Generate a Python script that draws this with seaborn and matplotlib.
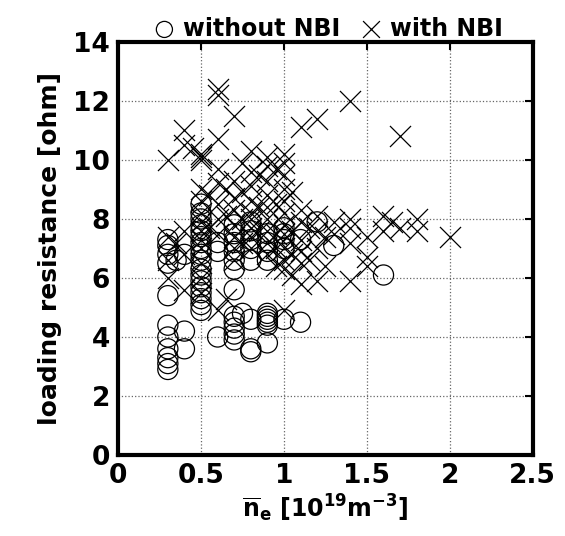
import pandas as pd
import matplotlib.pyplot as plt
import seaborn as sns

# without NBI (open circles)
x_wo = [0.3, 0.3, 0.3, 0.3, 0.3, 0.3, 0.3, 0.3, 0.3, 0.3, 0.3,
        0.35, 0.4, 0.4, 0.4,
        0.5, 0.5, 0.5, 0.5, 0.5, 0.5, 0.5, 0.5, 0.5, 0.5, 0.5, 0.5, 0.5, 0.5, 0.5, 0.5, 0.5, 0.5,
        0.6, 0.6, 0.6,
        0.7, 0.7, 0.7, 0.7, 0.7, 0.7, 0.7, 0.7, 0.7, 0.7, 0.7, 0.7,
        0.75,
        0.8, 0.8, 0.8, 0.8, 0.8, 0.8, 0.8, 0.8,
        0.9, 0.9, 0.9, 0.9, 0.9, 0.9, 0.9, 0.9, 0.9, 0.9,
        1.0, 1.0, 1.0, 1.0, 1.0,
        1.1, 1.1, 1.2, 1.3, 1.6]
y_wo = [2.9, 3.1, 3.3, 3.6, 4.0, 4.4, 5.4, 6.5, 6.8, 7.1, 7.3,
        6.6, 3.6, 4.2, 6.8,
        4.9, 5.1, 5.3, 5.5, 5.7, 5.9, 6.1, 6.3, 6.6, 6.8, 7.0, 7.2, 7.4, 7.6, 7.8, 8.0, 8.2, 8.5,
        4.0, 6.9, 7.2,
        3.9, 4.1, 4.3, 4.5, 4.7, 5.6, 6.3, 6.6, 6.9, 7.2, 7.5, 7.8,
        4.8,
        3.5, 3.6, 4.6, 6.6, 7.0, 7.3, 7.6, 7.9,
        3.8, 4.4, 4.5, 4.6, 4.7, 4.8, 6.6, 6.9, 7.2, 7.5,
        7.0, 7.3, 7.5, 7.7, 4.6,
        4.5, 7.3, 7.9, 7.1, 6.1]

# with NBI (crosses)
x_w = [0.3, 0.3, 0.3, 0.3, 0.35,
       0.4, 0.4, 0.4, 0.4, 0.4, 0.45,
       0.5, 0.5, 0.5, 0.5, 0.5, 0.5, 0.5, 0.5, 0.5, 0.5, 0.5, 0.5, 0.5,
       0.55, 0.55,
       0.6, 0.6, 0.6, 0.6, 0.6, 0.6, 0.6, 0.6, 0.6,
       0.65, 0.65, 0.65,
       0.7, 0.7, 0.7, 0.7, 0.7, 0.7, 0.7, 0.7,
       0.75, 0.75, 0.75, 0.75,
       0.8, 0.8, 0.8, 0.8, 0.8, 0.8, 0.8, 0.8, 0.8,
       0.85, 0.85, 0.85,
       0.9, 0.9, 0.9, 0.9, 0.9, 0.9, 0.9, 0.9, 0.9,
       0.95, 0.95, 0.95, 0.95, 0.95,
       1.0, 1.0, 1.0, 1.0, 1.0, 1.0, 1.0, 1.0, 1.0, 1.0, 1.0, 1.0,
       1.05, 1.05, 1.05, 1.05,
       1.1, 1.1, 1.1, 1.1, 1.1, 1.1, 1.1,
       1.15, 1.15,
       1.2, 1.2, 1.2, 1.2, 1.2,
       1.25, 1.25, 1.3, 1.3,
       1.4, 1.4, 1.4, 1.4, 1.4,
       1.5, 1.5, 1.5,
       1.6, 1.6, 1.65, 1.7, 1.7, 1.8, 1.8, 2.0]
y_w = [10.0, 7.4, 6.0, 6.6, 7.2,
       11.0, 10.5, 7.6, 5.6, 6.8, 10.4,
       10.0, 10.1, 10.2, 9.0, 8.6, 8.2, 7.9, 7.6, 7.3, 7.0, 6.5, 6.0, 5.5,
       8.8, 7.7,
       12.4, 12.2, 10.7, 9.7, 8.5, 8.0, 7.5, 4.9, 9.2,
       5.3, 8.1, 9.0,
       11.5, 9.3, 8.7, 8.3, 7.8, 7.4, 7.0, 6.6,
       9.9, 8.9, 8.0, 7.2,
       10.3, 9.6, 9.1, 8.6, 8.2, 8.0, 7.7, 7.4, 7.0,
       9.5, 8.4, 7.6,
       10.1, 9.8, 9.3, 8.8, 8.4, 8.0, 7.6, 7.2, 6.8,
       9.7, 8.5, 7.5, 7.0, 6.4,
       10.2, 9.9, 9.5, 9.0, 8.6, 8.2, 7.8, 7.5, 7.0, 6.6, 6.3, 4.9,
       8.9, 7.6, 6.8, 6.1,
       11.1, 8.3, 7.9, 7.3, 6.9, 6.5, 5.8,
       7.7, 6.6,
       11.4, 8.1, 7.6, 7.0, 5.9,
       7.4, 6.4, 7.9, 7.5,
       12.0, 8.0, 7.7, 7.2, 5.9,
       6.7, 6.4, 7.4,
       8.1, 7.6, 7.9, 10.8, 7.7, 8.0, 7.6, 7.4]

df_wo = pd.DataFrame({'ne': x_wo, 'R': y_wo})
df_w = pd.DataFrame({'ne': x_w, 'R': y_w})

sns.set_style("white")
plt.rcParams['font.family'] = ['DejaVu Sans']
plt.rcParams['font.weight'] = 'bold'
plt.rcParams['axes.labelweight'] = 'bold'
plt.rcParams['text.color'] = 'black'
plt.rcParams['axes.labelcolor'] = 'black'
plt.rcParams['xtick.color'] = 'black'
plt.rcParams['ytick.color'] = 'black'

fig = plt.figure(figsize=(5.65, 5.36), dpi=100)
ax = fig.add_axes([0.209, 0.151, 0.734, 0.771])

sns.scatterplot(data=df_wo, x='ne', y='R', marker='o', s=210,
                facecolor='none', edgecolor='black', linewidth=0.9,
                label='without NBI', ax=ax)
sns.scatterplot(data=df_w, x='ne', y='R', marker='x', s=230,
                color='black', linewidth=0.9, label='with NBI', ax=ax)

ax.set_xlim(0, 2.5)
ax.set_ylim(0, 14)
ax.set_xticks([0, 0.5, 1, 1.5, 2, 2.5])
ax.set_xticklabels(['0', '0.5', '1', '1.5', '2', '2.5'])
ax.set_yticks([0, 2, 4, 6, 8, 10, 12, 14])
ax.grid(True, color='#666666', linestyle=':', linewidth=0.9)
ax.tick_params(direction='in', length=6, width=1.5, labelsize=19,
               top=True, right=True, pad=6)
for sp in ax.spines.values():
    sp.set_linewidth(3)
    sp.set_color('black')

ax.set_xlabel(r'$\mathbf{\overline{n}_e}$ [10$^{\mathbf{19}}$m$^{\mathbf{-3}}$]',
              fontsize=17, labelpad=2)
ax.set_ylabel('loading resistance [ohm]', fontsize=18, labelpad=8)

ax.legend(loc='lower center', bbox_to_anchor=(0.5, 0.98), ncol=2,
          frameon=False, fontsize=17, handletextpad=0.1, columnspacing=0.6,
          handlelength=1.4, borderaxespad=0, markerscale=0.8)

fig.savefig('out.png', dpi=100)
